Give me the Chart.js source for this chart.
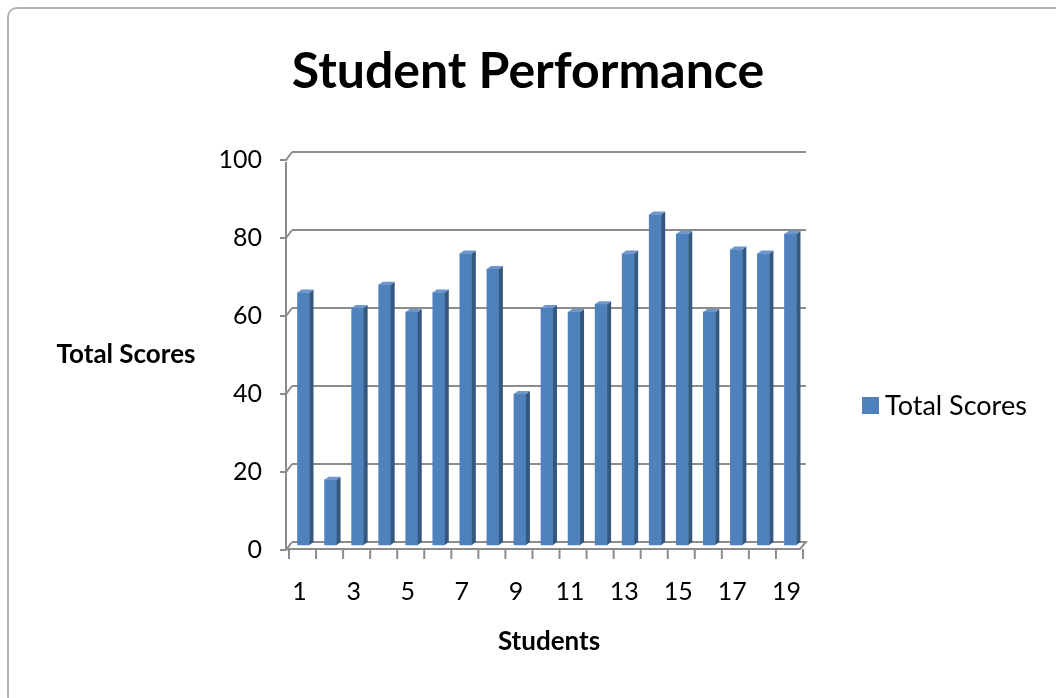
<!DOCTYPE html>
<html>
<head>
<meta charset="utf-8">
<script src="https://cdn.jsdelivr.net/npm/chart.js@4/dist/chart.umd.min.js"></script>
<style>
  html, body { margin: 0; padding: 0; background: #fff; overflow: hidden; }
  #frame {
    position: absolute; left: 7px; top: 7px; width: 1060px; height: 700px;
    border: 2px solid #b4b4b4; border-radius: 10px; box-sizing: border-box;
  }
  #wrap { position: absolute; left: 0; top: 0; width: 1056px; height: 698px; }
</style>
</head>
<body>
<div id="frame"></div>
<div id="wrap"><canvas id="c" width="1056" height="698"></canvas></div>
<script>
// Student numbers and their total scores
const students = ['1','2','3','4','5','6','7','8','9','10','11','12','13','14','15','16','17','18','19'];
const totalScores = [65, 17, 61, 67, 60, 65, 75, 71, 39, 61, 60, 62, 75, 85, 80, 60, 76, 75, 80];
const yTicks = [0, 20, 40, 60, 80, 100];

const FONT = 'Lato, "Open Sans", sans-serif';
const FRONT = '#4f81bd';
const SIDE = '#35587f';
const TOP = '#6d97cc';
const LINE = '#8c8c8c';
// depth of the 3-D frame: front edge sits left/below the back wall
const DX = 6, DY = 8;
// bars sit half-way through the depth
const BAR_DX = -2, BAR_DY = 4;
const SIDE_W = 4, CAP_H = 3;

// Draws the 3-D column frame: front axis, floor, connectors and tick marks
const frame3d = {
  id: 'frame3d',
  beforeDatasetsDraw(chart) {
    const { ctx, chartArea: a, scales: { y } } = chart;
    ctx.save();
    ctx.strokeStyle = LINE;
    ctx.lineWidth = 2;
    // front vertical axis
    const fx = a.left - DX;
    ctx.beginPath();
    ctx.moveTo(fx, y.getPixelForValue(100) + DY + 2);
    ctx.lineTo(fx, y.getPixelForValue(0) + DY);
    ctx.stroke();
    // small ticks and diagonal connectors to the back wall
    yTicks.forEach(v => {
      const py = y.getPixelForValue(v);
      ctx.beginPath();
      ctx.moveTo(fx - 6, py + DY);
      ctx.lineTo(fx, py + DY);
      ctx.lineTo(a.left, py);
      ctx.stroke();
    });
    // floor: front edge and right diagonal
    const by = y.getPixelForValue(0);
    ctx.beginPath();
    ctx.moveTo(fx, by + DY - 1);
    ctx.lineTo(a.right - DX, by + DY - 1);
    ctx.lineTo(a.right, by);
    ctx.lineTo(a.left, by);
    ctx.stroke();
    // category boundary tick marks below the floor
    const step = (a.right - a.left) / students.length;
    for (let i = 0; i <= students.length; i++) {
      const px = a.left + i * step - 3;
      ctx.beginPath();
      ctx.moveTo(px, by + DY - 1);
      ctx.lineTo(px, by + DY + 9);
      ctx.stroke();
    }
    ctx.restore();
    // shift the columns to mid-depth
    ctx.save();
    ctx.translate(BAR_DX, BAR_DY);
  },
  afterDatasetsDraw(chart) {
    const { ctx } = chart;
    // side and top faces of each column
    chart.getDatasetMeta(0).data.forEach(bar => {
      const { x, y, base, width } = bar.getProps(['x', 'y', 'base', 'width'], true);
      const r = x + width / 2, l = x - width / 2;
      ctx.fillStyle = SIDE;
      ctx.beginPath();
      ctx.moveTo(r, y);
      ctx.lineTo(r + SIDE_W, y - CAP_H);
      ctx.lineTo(r + SIDE_W, base - CAP_H);
      ctx.lineTo(r, base);
      ctx.closePath();
      ctx.fill();
      ctx.fillStyle = TOP;
      ctx.beginPath();
      ctx.moveTo(l, y);
      ctx.lineTo(l + SIDE_W, y - CAP_H);
      ctx.lineTo(r + SIDE_W, y - CAP_H);
      ctx.lineTo(r, y);
      ctx.closePath();
      ctx.fill();
    });
    ctx.restore();
  },
  afterDraw(chart) {
    const { ctx, scales: { y } } = chart;
    ctx.save();
    // horizontal axis title on the left
    ctx.fillStyle = '#000';
    ctx.font = 'bold 26px ' + FONT;
    ctx.textAlign = 'center';
    ctx.textBaseline = 'middle';
    ctx.fillText('Total Scores', 126, y.getPixelForValue(50) + DY);
    // legend
    const ds = chart.data.datasets[0];
    const ly = 405;
    ctx.fillStyle = ds.backgroundColor;
    ctx.fillRect(862, ly - 8, 17, 17);
    ctx.fillStyle = '#000';
    ctx.font = '27px ' + FONT;
    ctx.textAlign = 'left';
    ctx.fillText(ds.label, 885, ly + 1);
    ctx.restore();
  }
};

new Chart(document.getElementById('c'), {
  type: 'bar',
  data: {
    labels: students,
    datasets: [{
      label: 'Total Scores',
      data: totalScores,
      backgroundColor: FRONT,
      barThickness: 12,
      borderWidth: 0
    }]
  },
  options: {
    responsive: false,
    animation: false,
    events: [],
    layout: { padding: { left: 0, right: 0, top: 0, bottom: 41 } },
    plugins: {
      legend: { display: false },
      tooltip: { enabled: false },
      title: {
        display: true,
        text: 'Student Performance',
        color: '#000',
        font: { family: FONT, size: 50, weight: 'bold' },
        padding: { top: 42, bottom: 50 }
      }
    },
    scales: {
      x: {
        afterFit(s) { s.height = 115; },
        grid: { display: false },
        border: { display: false },
        ticks: {
          autoSkip: false,
          maxRotation: 0,
          padding: 27,
          labelOffset: -6,
          color: '#000',
          font: { family: FONT, size: 25 },
          callback(v, i) { return i % 2 === 0 ? this.getLabelForValue(v) : ''; }
        },
        title: {
          display: true,
          text: 'Students',
          color: '#000',
          font: { family: FONT, size: 26, weight: 'bold' },
          padding: { top: 20, bottom: 0 }
        }
      },
      y: {
        min: 0,
        max: 100,
        afterFit(s) { s.width = 292; },
        afterBuildTicks(s) { s.ticks = yTicks.map(v => ({ value: v })); },
        grid: { color: LINE, lineWidth: 2, drawTicks: false },
        border: { display: false },
        ticks: {
          padding: 30,
          labelOffset: 8,
          color: '#000',
          font: { family: FONT, size: 25 }
        }
      },
      // empty band on the right that holds the legend
      legendSpace: {
        type: 'linear',
        position: 'right',
        afterFit(s) { s.width = 250; },
        grid: { display: false },
        border: { display: false },
        ticks: { display: false }
      }
    }
  },
  plugins: [frame3d]
});
</script>
</body>
</html>
